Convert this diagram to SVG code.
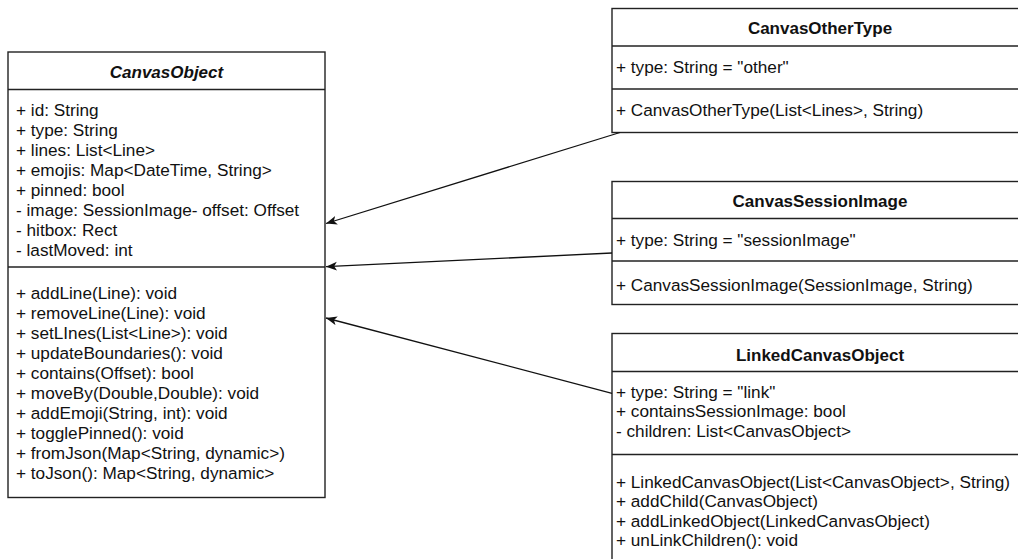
<svg xmlns="http://www.w3.org/2000/svg" width="1018" height="559" viewBox="0 0 1018 559">
  <style>
    .box { fill: #ffffff; stroke: #222222; stroke-width: 1.4; }
    .sep { stroke: #222222; stroke-width: 1.4; fill: none; }
    .txt { font-family: "Liberation Sans", Arial, Helvetica, sans-serif; font-size: 17.2px; fill: #111111; }
    .title { font-family: "Liberation Sans", Arial, Helvetica, sans-serif; font-size: 17px; font-weight: bold; fill: #111111; text-anchor: middle; }
    .edge { stroke: #111111; stroke-width: 1.3; fill: none; }
  </style>
  <defs>
    <marker id="arrow" markerUnits="userSpaceOnUse" markerWidth="13" markerHeight="11" refX="11" refY="4.5" orient="auto">
      <path d="M11,4.5 L0,0 L2.8,4.5 L0,9 Z" fill="#111111"/>
    </marker>
  </defs>
  <rect width="1018" height="559" fill="#ffffff"/>

  <!-- abstract base class -->
  <g id="canvas-object">
    <rect class="box" x="8" y="52" width="317" height="445.5"/>
    <line class="sep" x1="8" y1="89.5" x2="325" y2="89.5"/>
    <line class="sep" x1="8" y1="267" x2="325" y2="267"/>
    <text class="title" x="166.5" y="77.5" font-style="italic">CanvasObject</text>
    <text class="txt" x="16" y="116">+ id: String</text>
    <text class="txt" x="16" y="136">+ type: String</text>
    <text class="txt" x="16" y="156">+ lines: List&lt;Line&gt;</text>
    <text class="txt" x="16" y="176">+ emojis: Map&lt;DateTime, String&gt;</text>
    <text class="txt" x="16" y="196">+ pinned: bool</text>
    <text class="txt" x="16" y="216">- image: SessionImage- offset: Offset</text>
    <text class="txt" x="16" y="236">- hitbox: Rect</text>
    <text class="txt" x="16" y="256">- lastMoved: int</text>
    <text class="txt" x="16" y="298.5">+ addLine(Line): void</text>
    <text class="txt" x="16" y="318.5">+ removeLine(Line): void</text>
    <text class="txt" x="16" y="338.5">+ setLInes(List&lt;Line&gt;): void</text>
    <text class="txt" x="16" y="358.5">+ updateBoundaries(): void</text>
    <text class="txt" x="16" y="378.5">+ contains(Offset): bool</text>
    <text class="txt" x="16" y="398.5">+ moveBy(Double,Double): void</text>
    <text class="txt" x="16" y="418.5">+ addEmoji(String, int): void</text>
    <text class="txt" x="16" y="438.5">+ togglePinned(): void</text>
    <text class="txt" x="16" y="458.5">+ fromJson(Map&lt;String, dynamic&gt;)</text>
    <text class="txt" x="16" y="478.5">+ toJson(): Map&lt;String, dynamic&gt;</text>
  </g>

  <g id="canvas-other-type">
    <rect class="box" x="612" y="8.5" width="416" height="124"/>
    <line class="sep" x1="612" y1="46" x2="1028" y2="46"/>
    <line class="sep" x1="612" y1="89" x2="1028" y2="89"/>
    <text class="title" x="820" y="34">CanvasOtherType</text>
    <text class="txt" x="616" y="72.5">+ type: String = "other"</text>
    <text class="txt" x="616" y="116">+ CanvasOtherType(List&lt;Lines&gt;, String)</text>
  </g>

  <g id="canvas-session-image">
    <rect class="box" x="612" y="181.5" width="416" height="123"/>
    <line class="sep" x1="612" y1="218.5" x2="1028" y2="218.5"/>
    <line class="sep" x1="612" y1="261" x2="1028" y2="261"/>
    <text class="title" x="820" y="206.5">CanvasSessionImage</text>
    <text class="txt" x="616" y="246">+ type: String = "sessionImage"</text>
    <text class="txt" x="616" y="291">+ CanvasSessionImage(SessionImage, String)</text>
  </g>

  <g id="linked-canvas-object">
    <rect class="box" x="612" y="333.5" width="416" height="240"/>
    <line class="sep" x1="612" y1="371.5" x2="1028" y2="371.5"/>
    <line class="sep" x1="612" y1="454.5" x2="1028" y2="454.5"/>
    <text class="title" x="820" y="361">LinkedCanvasObject</text>
    <text class="txt" x="616" y="397.5">+ type: String = "link"</text>
    <text class="txt" x="616" y="417">+ containsSessionImage: bool</text>
    <text class="txt" x="616" y="436.5">- children: List&lt;CanvasObject&gt;</text>
    <text class="txt" x="616" y="487.5">+ LinkedCanvasObject(List&lt;CanvasObject&gt;, String)</text>
    <text class="txt" x="616" y="507">+ addChild(CanvasObject)</text>
    <text class="txt" x="616" y="526.5">+ addLinkedObject(LinkedCanvasObject)</text>
    <text class="txt" x="616" y="546">+ unLinkChildren(): void</text>
  </g>

  <!-- inheritance edges -->
  <g id="connectors">
    <line class="edge" x1="620" y1="132.5" x2="326" y2="223.5" marker-end="url(#arrow)"/>
    <line class="edge" x1="612" y1="253" x2="326" y2="266.7" marker-end="url(#arrow)"/>
    <line class="edge" x1="612" y1="393.3" x2="326" y2="318" marker-end="url(#arrow)"/>
  </g>
</svg>
